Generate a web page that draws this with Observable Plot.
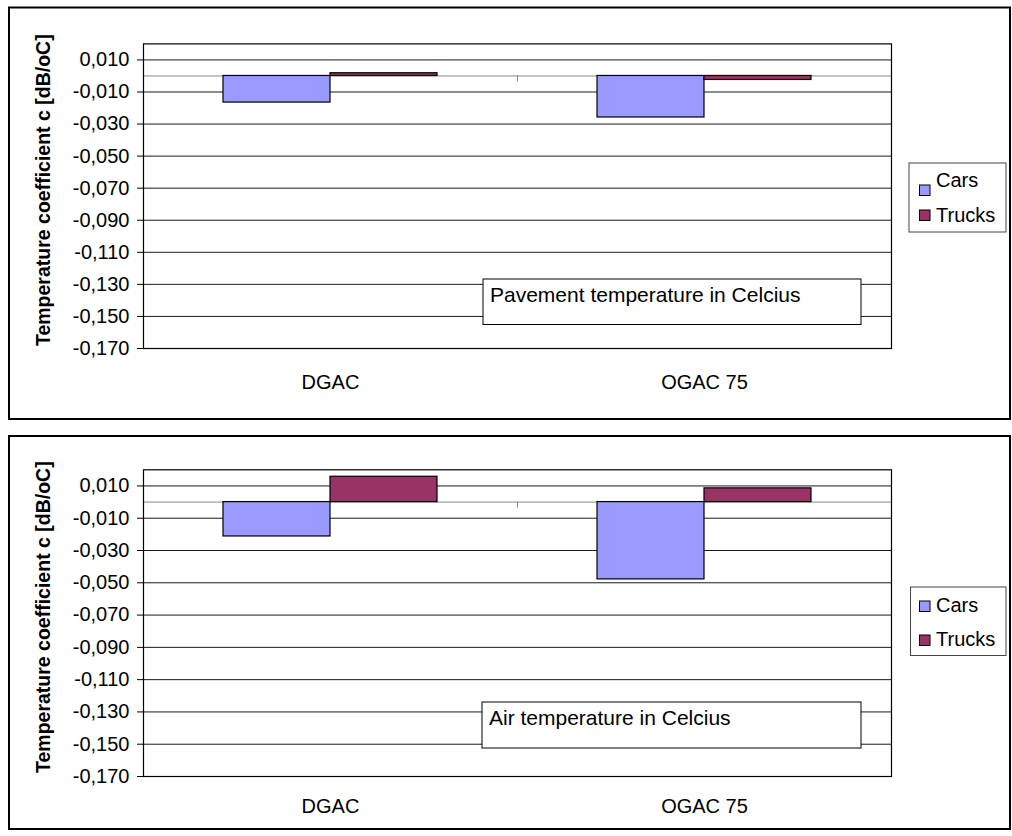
<!DOCTYPE html>
<html><head><meta charset="utf-8">
<script src="https://cdn.jsdelivr.net/npm/d3@7"></script>
<script src="https://cdn.jsdelivr.net/npm/@observablehq/plot@0.6"></script>
<style>
body{margin:0;background:#fff;font-family:"Liberation Sans",Arial,sans-serif;}
#root{position:relative;width:1012px;height:836px;overflow:hidden;background:#fff}
#root > svg{position:absolute;left:0}
</style>
</head><body>
<div id="root"></div>
<script>
// ---- data ----
const categories = ["DGAC", "OGAC 75"];
const seriesNames = ["Cars", "Trucks"];
const seriesColors = ["#9999FF", "#993366"];
const pavementCars = [-0.0166, -0.0259];
const pavementTrucks = [0.0017, -0.0025];
const airCars = [-0.0213, -0.0479];
const airTrucks = [0.0157, 0.0085];
const yTicks = [0.01, -0.01, -0.03, -0.05, -0.07, -0.09, -0.11, -0.13, -0.15, -0.17];
const yDomain = [-0.17, 0.02];
const yTitle = "Temperature coefficient c [dB/oC]";
const panelNotes = ["Pavement temperature in Celcius", "Air temperature in Celcius"];

const FONT = '"Liberation Sans", Arial, sans-serif';
const fmt = d => d.toFixed(3).replace(".", ",");
const root = document.getElementById("root");

function panel(cars, trucks, opt) {
  const rows = series => categories.map((c, i) => ({cat: c, value: series[i]}));
  const chart = Plot.plot({
    width: 1012,
    height: opt.height,
    marginLeft: 143,
    marginRight: 121,
    marginTop: opt.marginTop,
    marginBottom: opt.marginBottom,
    style: {fontFamily: FONT, fontSize: "20px", background: "transparent", color: "#000", overflow: "visible"},
    x: {domain: categories, padding: 0, label: null},
    y: {domain: yDomain, label: null},
    marks: [
      Plot.ruleY(yTicks, {stroke: "#1a1a1a", strokeWidth: 1}),
      Plot.ruleY([0], {stroke: "#888", strokeWidth: 1}),
      Plot.ruleX([categories[0]], {x: d => d, y1: 0, y2: 0, insetBottom: -6, dx: 187, stroke: "#888"}),
      Plot.barY(rows(cars), {x: "cat", y: "value", fill: seriesColors[0], stroke: "#000", strokeWidth: 1.2, insetLeft: 80, insetRight: 187}),
      Plot.barY(rows(trucks), {x: "cat", y: "value", fill: seriesColors[1], stroke: "#000", strokeWidth: 1.2, insetLeft: 187, insetRight: 80}),
      Plot.frame({stroke: "#000", strokeWidth: 1.2}),
      Plot.axisY(yTicks, {tickFormat: fmt, tickSize: 6, tickPadding: 8, fontSize: 20, label: null}),
      Plot.axisX({tickSize: 0, tickPadding: opt.catPad, fontSize: 20, label: null}),
      Plot.text([yTitle], {frameAnchor: "left", textAnchor: "middle", rotate: -90, dx: -100, dy: -6, fontSize: 19.5, fontWeight: "bold"})
    ]
  });
  chart.style.top = opt.top + "px";
  root.appendChild(chart);
}

panel(pavementCars, pavementTrucks, {top: 0, height: 419, marginTop: 43.4, marginBottom: 71, catPad: 26});
panel(airCars, airTrucks, {top: 426, height: 410, marginTop: 43.3, marginBottom: 60, catPad: 22});

// ---- overlay: panel borders, legends, notes ----
const ov = d3.select(root).append("svg")
  .attr("width", 1012).attr("height", 836)
  .style("top", "0px").style("font-family", FONT);

const panels = [
  {box: [9, 7.5, 1001, 411.5], legend: [909, 163, 97, 69], swY: [185, 210], txY: [187, 221.5],
   note: [483, 279, 378, 45.5], noteY: 301.5},
  {box: [9, 436, 1001, 393], legend: [910.5, 587, 95.5, 68.5], swY: [601, 635], txY: [611.5, 646],
   note: [482, 702, 379, 46], noteY: 724.5}
];
panels.forEach((p, k) => {
  ov.append("rect").attr("x", p.box[0]).attr("y", p.box[1]).attr("width", p.box[2]).attr("height", p.box[3])
    .attr("fill", "none").attr("stroke", "#000").attr("stroke-width", 2);
  ov.append("rect").attr("x", p.legend[0]).attr("y", p.legend[1]).attr("width", p.legend[2]).attr("height", p.legend[3])
    .attr("fill", "#fff").attr("stroke", "#444").attr("stroke-width", 1);
  seriesNames.forEach((s, i) => {
    ov.append("rect").attr("x", 919.5).attr("y", p.swY[i]).attr("width", 10.5).attr("height", 10.5)
      .attr("fill", seriesColors[i]).attr("stroke", "#000").attr("stroke-width", 1);
    ov.append("text").attr("x", 936).attr("y", p.txY[i]).attr("font-size", 20).text(s);
  });
  ov.append("rect").attr("x", p.note[0]).attr("y", p.note[1]).attr("width", p.note[2]).attr("height", p.note[3])
    .attr("fill", "#fff").attr("stroke", "#000").attr("stroke-width", 1);
  ov.append("text").attr("x", p.note[0] + 7).attr("y", p.noteY).attr("font-size", 21).text(panelNotes[k]);
});
</script>
</body></html>
